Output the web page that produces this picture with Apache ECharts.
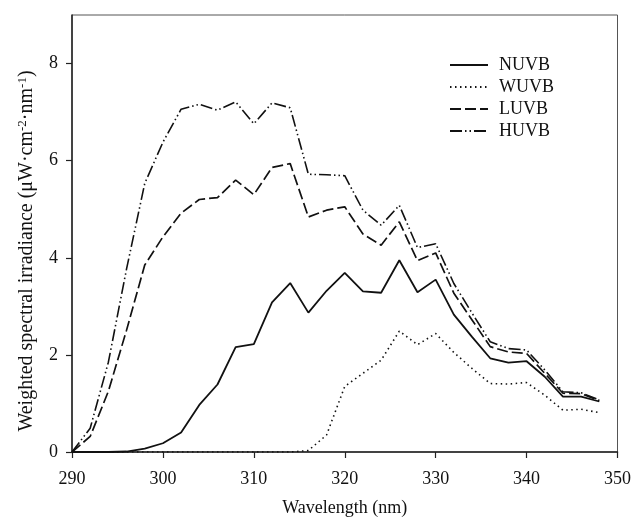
<!DOCTYPE html>
<html>
<head>
<meta charset="utf-8">
<script src="https://cdn.jsdelivr.net/npm/echarts@6/dist/echarts.min.js"></script>
<style>html,body{margin:0;padding:0;background:#fff}#c{width:634px;height:523px}</style>
</head>
<body>
<div id="c"></div>
<script>
const wavelengths = [290,292,294,296,298,300,302,304,306,308,310,312,314,316,318,320,322,324,326,328,330,332,334,336,338,340,342,344,346,348];
const NUVB = [0,0,0,0.01,0.07,0.18,0.40,0.97,1.39,2.16,2.22,3.08,3.48,2.87,3.32,3.69,3.31,3.28,3.95,3.29,3.55,2.83,2.37,1.93,1.84,1.87,1.55,1.14,1.14,1.04];
const WUVB = [0,0,0,0,0,0,0,0,0,0,0,0,0,0.03,0.35,1.35,1.62,1.89,2.49,2.21,2.44,2.05,1.72,1.41,1.40,1.43,1.17,0.86,0.88,0.81];
const LUVB = [0,0.32,1.25,2.51,3.85,4.43,4.92,5.20,5.24,5.60,5.30,5.86,5.94,4.84,4.98,5.05,4.49,4.26,4.74,3.94,4.10,3.27,2.72,2.17,2.06,2.03,1.62,1.21,1.20,1.06];
const HUVB = [0,0.49,1.85,3.77,5.53,6.38,7.06,7.16,7.04,7.21,6.76,7.19,7.09,5.72,5.71,5.69,4.98,4.67,5.08,4.21,4.29,3.47,2.86,2.27,2.13,2.10,1.69,1.24,1.22,1.07];
const xTicks = [290,300,310,320,330,340,350];
const yTicks = [0,2,4,6,8];

const FONT = '"Liberation Serif", "DejaVu Serif", serif';
const chart = echarts.init(document.getElementById('c'), null, {renderer: 'canvas'});

function mk(name, vals, type, width) {
  return {
    name: name, type: 'line', symbol: 'none', animation: false,
    color: '#111',
    data: wavelengths.map((w, i) => [w, vals[i]]),
    lineStyle: {color: '#111', width: width, type: type}
  };
}

chart.setOption({
  animation: false,
  backgroundColor: '#fff',
  grid: {left: 72, right: 15, top: 15, bottom: 71, show: true, borderColor: '#555', borderWidth: 1},
  legend: {
    left: 444, top: 51, orient: 'vertical',
    itemWidth: 38, itemHeight: 16, itemGap: 4,
    itemStyle: {opacity: 0},
    textStyle: {fontFamily: FONT, fontSize: 18, color: '#111', padding: [0,0,0,6]},
    data: ['NUVB','WUVB','LUVB','HUVB']
  },
  xAxis: {
    type: 'value', min: 290, max: 350, interval: 10,
    name: 'Wavelength (nm)', nameLocation: 'middle', nameGap: 47,
    nameTextStyle: {fontFamily: FONT, fontSize: 18, color: '#111'},
    axisLine: {lineStyle: {color: '#222', width: 1.5}},
    axisTick: {show: true, inside: false, length: 6, lineStyle: {color: '#222', width: 1.2}, customValues: xTicks},
    axisLabel: {fontFamily: FONT, fontSize: 18, color: '#111', margin: 18, customValues: xTicks},
    splitLine: {show: false}
  },
  yAxis: {
    type: 'value', min: 0, max: 9, interval: 2,
    axisLine: {show: true, lineStyle: {color: '#222', width: 1.5}},
    axisTick: {show: true, inside: false, length: 6, lineStyle: {color: '#222', width: 1.2}, customValues: yTicks},
    axisLabel: {fontFamily: FONT, fontSize: 18, color: '#111', margin: 14, customValues: yTicks},
    splitLine: {show: false}
  },
  graphic: [{
    type: 'text', x: 27, y: 251, rotation: Math.PI / 2,
    style: {
      text: 'Weighted spectral irradiance (μW·cm{s|-2}·nm{s|-1})',
      rich: {s: {fontFamily: FONT, fontSize: 13, verticalAlign: 'top', padding: [0,0,9,0], fill: '#111'}},
      fontFamily: FONT, fontSize: 20, fill: '#111', align: 'center', verticalAlign: 'middle'
    }
  }],
  series: [
    mk('NUVB', NUVB, 'solid', 1.8),
    mk('WUVB', WUVB, [1.5, 3.5], 1.6),
    mk('LUVB', LUVB, [11, 4], 1.7),
    mk('HUVB', HUVB, [12, 3, 1.5, 3, 1.5, 3], 1.6)
  ]
});
</script>
</body>
</html>
